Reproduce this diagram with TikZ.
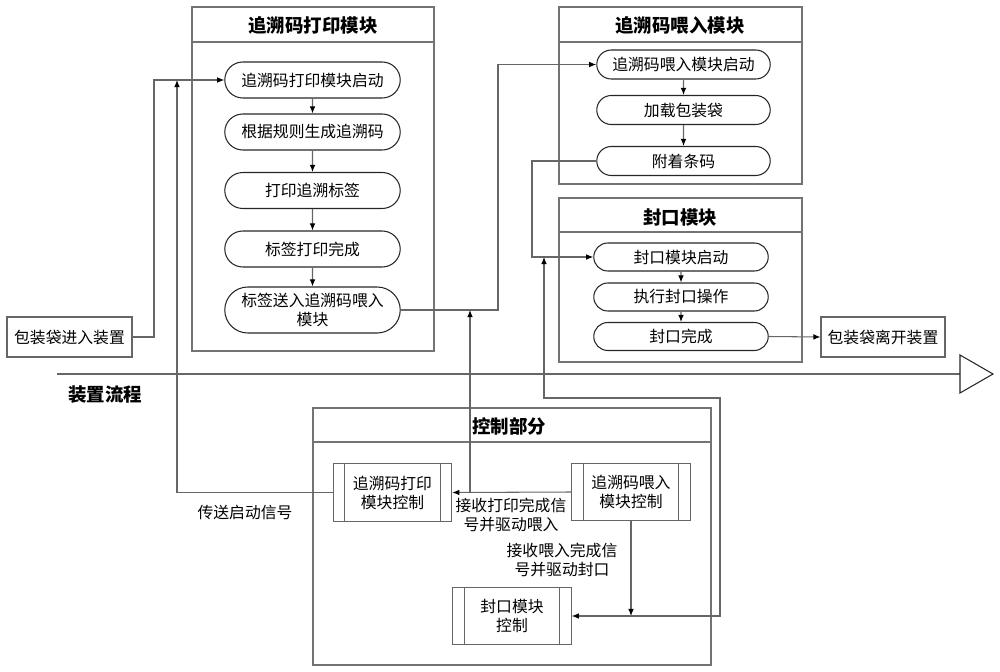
\documentclass[tikz,border=0pt]{standalone}
\usepackage{fontspec}
\setmainfont{Noto Sans CJK SC}
\usetikzlibrary{positioning, shapes.misc, arrows.meta, calc}

\begin{document}
\begin{tikzpicture}[x=0.02cm, y=-0.02cm,
    font=\fontsize{9}{10.8}\selectfont,
    line/.style={draw=black!60, line width=0.6pt},
    flow/.style={line, -{Latex[length=4pt, width=3.2pt, black]}},
    modline/.style={draw=black!55, line width=0.6pt},
    modtitle/.style={font=\fontsize{10.5}{12}\selectfont\bfseries},
    flowstep/.style={rounded rectangle, draw=black!85, line width=0.6pt,
        minimum width=3.58cm, minimum height=0.72cm, inner sep=1pt, align=center},
    plainbox/.style={rectangle, draw=black!60, line width=0.6pt,
        minimum width=2.5cm, minimum height=0.8cm},
    ctlbox/.style={rectangle, draw=black!60, line width=0.6pt,
        minimum width=2.37cm, minimum height=1.15cm, align=center},
    note/.style={align=center}]
    \useasboundingbox (0,0) rectangle (1000,672);

    % Module frames
    \foreach \l/\t/\r/\b/\s in {192/7/434/351/42, 559/7/802/184/42,
                                559/198/802/362/232, 313/408/711/665/442} {
        \draw[modline] (\l,\t) rectangle (\r,\b);
        \draw[modline] (\l,\s) -- (\r,\s);
    }
    \node[modtitle] (prttitle) at (313,25) {追溯码打印模块};
    \node[modtitle] (feedtitle) at (680,25) {追溯码喂入模块};
    \node[modtitle] (sealtitle) at (680,218) {封口模块};
    \node[modtitle] (ctltitle) at (509,426) {控制部分};

    % Print module
    \foreach \name/\y/\txt in {prt1/80/追溯码打印模块启动, prt2/132/根据规则生成追溯码,
                               prt3/190.5/打印追溯标签, prt4/249/标签打印完成} {
        \node[flowstep] (\name) at (312.5,\y) {\txt};
    }
    \node[flowstep, minimum height=0.92cm] (prt5) at (312.5,310) {标签送入追溯码喂入\\模块};

    % Feed module
    \foreach \name/\y/\txt in {feed1/64.5/追溯码喂入模块启动, feed2/110/加载包装袋,
                               feed3/161/附着条码} {
        \node[flowstep, minimum width=3.54cm, minimum height=0.58cm] (\name) at (683.5,\y) {\txt};
    }

    % Seal module
    \foreach \name/\y/\txt in {seal1/257/封口模块启动, seal2/297/执行封口操作,
                               seal3/336.5/封口完成} {
        \node[flowstep, minimum width=3.56cm, minimum height=0.56cm] (\name) at (681,\y) {\txt};
    }

    \foreach \a/\b in {prt1/prt2, prt2/prt3, prt3/prt4, prt4/prt5,
                       feed1/feed2, feed2/feed3, seal1/seal2, seal2/seal3} {
        \draw[flow] (\a) -- (\b);
    }

    % Bag in / out
    \node[plainbox] (entry) at (69.5,337) {包装袋进入装置};
    \node[plainbox, minimum width=2.48cm] (exit) at (883,337) {包装袋离开装置};

    % Process line
    \coordinate (flowstart) at (57,374);
    \coordinate (flowend) at (960,374);
    \draw[line] (flowstart) -- (flowend);
    \draw[draw=black!85, line width=0.6pt] (960,355) -- (993,374) -- (960,393) -- cycle;
    \node[modtitle] (flowlabel) at (105,395) {装置流程};

    % Control part
    \node[ctlbox] (prtctl) at (392.5,492.5) {追溯码打印\\模块控制};
    \node[ctlbox] (feedctl) at (631,492) {追溯码喂入\\模块控制};
    \node[ctlbox] (sealctl) at (512,616) {封口模块\\控制};
    \foreach \c in {prtctl, feedctl, sealctl} {
        \draw[line] ([xshift=0.24cm]\c.north west) -- ([xshift=0.24cm]\c.south west);
        \draw[line] ([xshift=-0.24cm]\c.north east) -- ([xshift=-0.24cm]\c.south east);
    }
    \node (startsig) at (245,513) {传送启动信号};
    \node[note] (printdone) at (511,515) {接收打印完成信\\号并驱动喂入};
    \node[note] (feeddone) at (562,560) {接收喂入完成信\\号并驱动封口};

    % Lanes
    \coordinate (lanea) at (154,0);
    \coordinate (laneb) at (177,0);
    \coordinate (lanec) at (470,0);
    \coordinate (laned) at (498,0);
    \coordinate (lanee) at (532,0);
    \coordinate (lanef) at (544,0);
    \coordinate (laneg) at (720,398);

    % Connectors
    \draw[flow] (entry.east) -| (lanea |- prt1.west) -- (prt1.west);
    \draw[flow] (prtctl.west) -| (laneb |- prt1.west);
    \draw[flow] (prt5.east) -| (laned |- feed1.west) -- (feed1.west);
    \draw[flow] (feedctl.west) -- (prtctl.east);
    \draw[flow] (lanec |- feedctl.west) -- (lanec |- prt5.east);
    \draw[flow] (feed3.west) -| (lanee |- seal1.west) -- (seal1.west);
    \draw[flow] (feedctl.south) -- (feedctl.south |- sealctl.east);
    \draw[line, {Latex[length=4pt, width=3.2pt, black]}-{Latex[length=4pt, width=3.2pt, black]}]
        (sealctl.east) -| (laneg) -| (lanef |- seal1.west);
    \draw[flow] (seal3.east) -- (exit.west);
\end{tikzpicture}
\end{document}
